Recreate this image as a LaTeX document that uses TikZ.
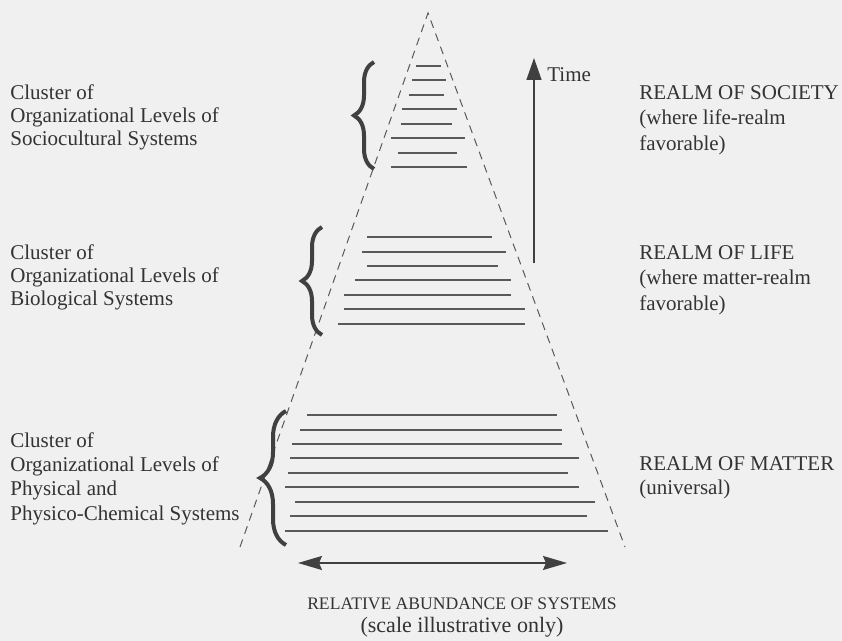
\documentclass[tikz,border=0pt]{standalone}
\usepackage{fontspec}
\setmainfont{Liberation Serif}
\usetikzlibrary{arrows.meta,decorations.pathreplacing}
\begin{document}
\begin{tikzpicture}[x=0.5pt, y=-0.5pt,
    level/.style={line width=0.8pt, black!65},
    side/.style={dash pattern=on 4pt off 3pt, line width=0.5pt, black!65},
    cluster/.style={decorate, decoration={brace, amplitude=#1, aspect=0.5}, line width=2pt, black!75},
    txt/.style={inner sep=0pt, align=left, text=black!80, font=\fontsize{10.5}{12.2}\selectfont}]
    \useasboundingbox (0,0) rectangle (842,641);
    \fill[black!6] (0,0) rectangle (842,641);
    % sides of the pyramid
    \coordinate (apex) at (428,13);
    \coordinate (left) at (240,547);
    \coordinate (right) at (625,547);
    \draw[side] (left) -- (apex) -- (right);
    % organizational levels
    \foreach \yy/\xl/\xr in {66/416/441, 80/412/446, 95/409/444, 109/402/457,
        124/401/452, 138/391/465, 153/398/457, 167/391/467}
        \draw[level] (\xl,\yy) -- (\xr,\yy);
    \foreach \yy/\xl/\xr in {237/367/492, 252/362/506, 266/367/498, 280/355/511,
        295/344/511, 309/344/525, 324/338/525}
        \draw[level] (\xl,\yy) -- (\xr,\yy);
    \foreach \yy/\xl/\xr in {415/307/557, 430/300/562, 444/292/562, 458/290/579,
        473/288/568, 487/285/579, 502/295/595, 516/290/587, 531/285/608}
        \draw[level] (\xl,\yy) -- (\xr,\yy);
    % braces
    \draw[cluster=10pt] (374,169) -- (374,62);
    \draw[cluster=10pt] (322,335) -- (322,227);
    \draw[cluster=13pt] (286,545) -- (286,411);
    % time arrow
    \coordinate (tfoot) at (534,263);
    \coordinate (thead) at (534,58);
    \draw[-{Triangle[length=11pt,width=7.5pt]}, line width=0.7pt, black!75] (tfoot) -- (thead);
    \node[txt, anchor=west] (time) at (547,75) {Time};
    % abundance arrow
    \coordinate (wleft) at (298,563);
    \coordinate (wright) at (567,563);
    \draw[{Stealth[length=12pt,width=7pt,inset=1.5pt]}-{Stealth[length=12pt,width=7pt,inset=1.5pt]},
        line width=0.8pt, black!75] (wleft) -- (wright);
    \node[txt, anchor=north, align=center, font=\fontsize{11}{11.5}\selectfont] (abund) at (462,597)
        {{\fontsize{8.8}{11}\selectfont RELATIVE ABUNDANCE OF SYSTEMS}\\(scale illustrative only)};
    % clusters
    \node[txt, anchor=north west, font=\fontsize{10.5}{11.6}\selectfont] (soc) at (10,84)
        {Cluster of\\Organizational Levels of\\Sociocultural Systems};
    \node[txt, anchor=north west, font=\fontsize{10.5}{11.6}\selectfont] (bio) at (10,244)
        {Cluster of\\Organizational Levels of\\Biological Systems};
    \node[txt, anchor=north west] (phys) at (10,432)
        {Cluster of\\Organizational Levels of\\Physical and\\Physico-Chemical Systems};
    % realms
    \node[txt, anchor=north west, font=\fontsize{10.5}{12.8}\selectfont] (society) at (639,85)
        {REALM OF SOCIETY\\(where life-realm\\favorable)};
    \node[txt, anchor=north west, font=\fontsize{10.5}{12.8}\selectfont] (life) at (639,245)
        {REALM OF LIFE\\(where matter-realm\\favorable)};
    \node[txt, anchor=north west] (matter) at (639,456) {REALM OF MATTER\\(universal)};
\end{tikzpicture}
\end{document}
